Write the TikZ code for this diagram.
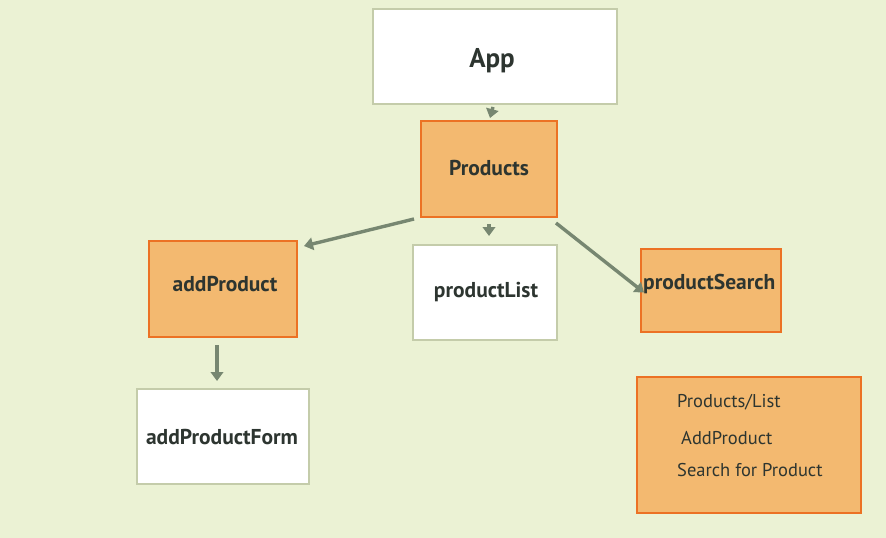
\documentclass[tikz,border=0pt]{standalone}
\usepackage{fontspec}
\setmainfont{PT Sans}
\usetikzlibrary{arrows.meta}
\definecolor{bg}{RGB}{235,242,212}
\definecolor{wborder}{RGB}{196,204,170}
\definecolor{ofill}{RGB}{243,185,112}
\definecolor{oborder}{RGB}{236,114,36}
\definecolor{arr}{RGB}{119,135,113}
\definecolor{txt}{RGB}{45,53,48}
\tikzset{
  wbox/.style={draw=wborder, fill=white, line width=2pt, inner sep=0pt},
  obox/.style={draw=oborder, fill=ofill, line width=2pt, inner sep=0pt},
  lbl/.style={inner sep=0pt, text=txt, font=\bfseries\fontsize{21.5}{24}\selectfont},
  legtxt/.style={inner sep=0pt, anchor=west, text=txt, font=\fontsize{18.5}{22}\selectfont},
  conn/.style={draw=arr, line width=3.4pt, -{Triangle[width=12.5pt,length=9pt]}},
}
\begin{document}
\begin{tikzpicture}[x=1pt,y=-1pt]
\fill[bg] (0,0) rectangle (886,538);
\useasboundingbox (0,0) rectangle (886,538);
% boxes
\node[wbox, minimum width=244pt, minimum height=95pt] (app) at (495,56.5) {};
\node[lbl, font=\bfseries\fontsize{27}{30}\selectfont] (applbl) at (492,61) {App};
\node[obox, minimum width=136pt, minimum height=96pt] (products) at (489,169) {};
\node[lbl] (productslbl) at (489,168) {Products};
\node[obox, minimum width=148pt, minimum height=96pt] (addproduct) at (223,289) {};
\node[lbl] (addproductlbl) at (225,284) {addProduct};
\node[wbox, minimum width=144pt, minimum height=95pt] (productlist) at (485,292.5) {};
\node[lbl] (productlistlbl) at (486,292) {productList};
\node[obox, minimum width=140pt, minimum height=83pt] (productsearch) at (711,290.5) {};
\node[lbl, anchor=west] (productsearchlbl) at (643,284) {productSearch};
\node[wbox, minimum width=172pt, minimum height=95pt] (addproductform) at (223,436.5) {};
\node[lbl] (addproductformlbl) at (222,437) {addProductForm};
\node[obox, minimum width=224pt, minimum height=136pt] (legend) at (749,445) {};
\node[legtxt] (leg1) at (677,402) {Products/List};
\node[legtxt] (leg2) at (681,438) {AddProduct};
\node[legtxt] (leg3) at (677,470) {Search for Product};
% connectors
\draw[conn] ([xshift=-2pt,yshift=-2pt]app.south) -- ([xshift=1pt,yshift=2pt]products.north);
\draw[conn] ([xshift=-6pt,yshift=-1pt]products.south west) -- ([xshift=6pt,yshift=-6pt]addproduct.north east);
\draw[conn] ([yshift=-6pt]products.south) -- ([xshift=4pt,yshift=8pt]productlist.north);
\draw[conn] ([xshift=-2pt,yshift=-5pt]products.south east) -- ([xshift=4pt,yshift=-2pt]productsearch.west);
\draw[conn] ([xshift=-6pt,yshift=-7pt]addproduct.south) -- ([xshift=-6pt,yshift=7pt]addproductform.north);
\end{tikzpicture}
\end{document}
